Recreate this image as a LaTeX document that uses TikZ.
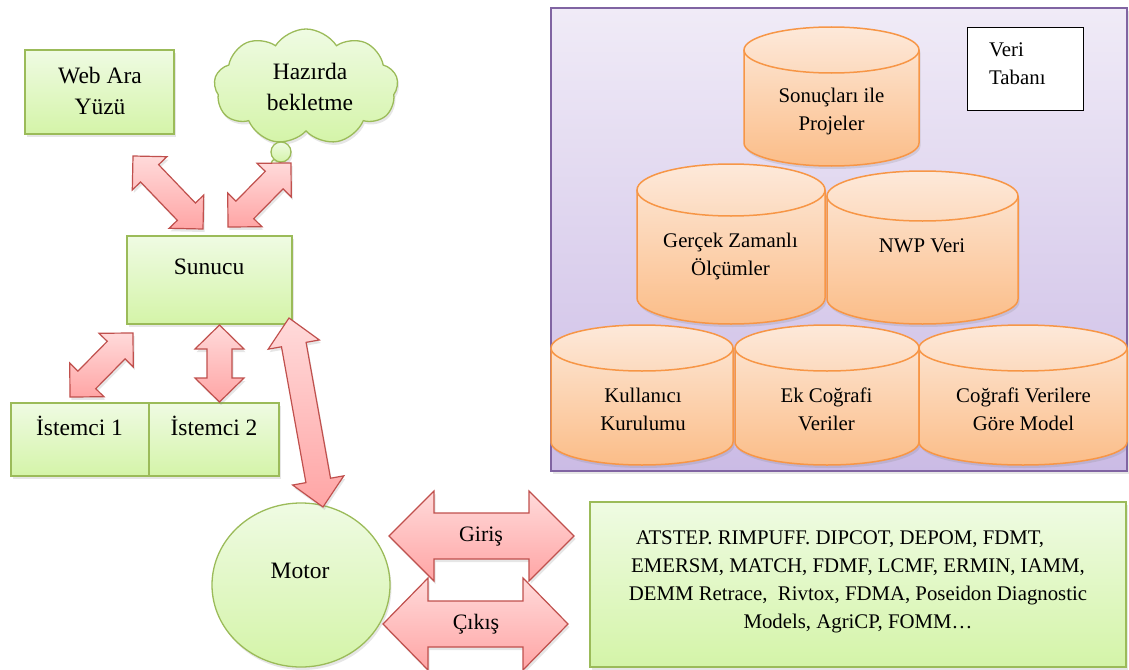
\documentclass[tikz,border=0pt]{standalone}
\usepackage{fontspec}
\setmainfont{Liberation Serif}
\usetikzlibrary{calc,shapes.symbols,shapes.geometric,shadows}
\definecolor{grnline}{HTML}{9BBB59}
\definecolor{grntop}{HTML}{EFFBE3}
\definecolor{grnbot}{HTML}{D4F4A8}
\definecolor{redline}{HTML}{C0504D}
\definecolor{redtop}{HTML}{FFDADA}
\definecolor{redbot}{HTML}{FFA5A5}
\definecolor{purline}{HTML}{8064A2}
\definecolor{purtop}{HTML}{F0EBF7}
\definecolor{purbot}{HTML}{CBBBE5}
\definecolor{orline}{HTML}{F79646}
\definecolor{ortop}{HTML}{FDE9DA}
\definecolor{orbot}{HTML}{FBBD88}
\newcommand\dbcyl[6]{% name,x1,x2,ytop,ybot,ry
  \pgfmathsetmacro\cx{(#2+#3)/2}\pgfmathsetmacro\rx{(#3-#2)/2}%
  \coordinate (#1) at (\cx,{(#4+#5)/2});
  \path[cylfill] (#2,{#4+#6}) -- (#2,{#5-#6}) arc[start angle=180,end angle=0,x radius=\rx,y radius=#6] -- (#3,{#4+#6}) arc[start angle=0,end angle=-180,x radius=\rx,y radius=#6] -- cycle;
  \draw[cylline] (#2,{#4+#6}) -- (#2,{#5-#6}) arc[start angle=180,end angle=0,x radius=\rx,y radius=#6] -- (#3,{#4+#6});
  \draw[cylline] (\cx,{#4+#6}) ellipse [x radius=\rx, y radius=#6];
}
\begin{document}
\begin{tikzpicture}[x=1pt,y=-1pt,
  shadowed/.style={drop shadow={opacity=0.2, shadow xshift=1.5pt, shadow yshift=-3pt}},
  greenbox/.style={draw=grnline, line width=1.3pt, top color=grntop, bottom color=grnbot, shadowed},
  boxnode/.style={greenbox, rectangle, inner sep=0pt},
  lbl/.style={align=center, inner sep=0pt, font=\fontsize{23.5pt}{31pt}\selectfont},
  dblbl/.style={align=center, inner sep=0pt, font=\fontsize{20.8pt}{28pt}\selectfont},
  redarrow/.style={draw=redline, line width=1.2pt, top color=redtop, bottom color=redbot, line join=miter, shadowed},
  blockarrow/.style n args={3}{redarrow, to path={
    let \p1=(\tikztostart), \p2=(\tikztotarget),
        \n1={atan2(\y2-\y1,\x2-\x1)} in
    (\p1) -- ($(\p1)+(\n1:#1)+(\n1+90:#2)$) -- ($(\p1)+(\n1:#1)+(\n1+90:#3)$)
    -- ($(\p2)+(\n1+180:#1)+(\n1+90:#3)$) -- ($(\p2)+(\n1+180:#1)+(\n1+90:#2)$)
    -- (\p2) -- ($(\p2)+(\n1+180:#1)+(\n1-90:#2)$) -- ($(\p2)+(\n1+180:#1)+(\n1-90:#3)$)
    -- ($(\p1)+(\n1:#1)+(\n1-90:#3)$) -- ($(\p1)+(\n1:#1)+(\n1-90:#2)$) -- cycle}},
  cylfill/.style={top color=ortop, bottom color=orbot, shadowed},
  cylline/.style={draw=orline, line width=1.5pt},
]
\useasboundingbox (0,0) rectangle (1129,669);

% ---- database panel ----
\node[draw=purline, line width=2pt, top color=purtop, bottom color=purbot, shadowed,
      minimum width=576pt, minimum height=463pt, inner sep=0pt] (db) at (839,239.5) {};
\node[draw=black, line width=0.8pt, fill=white, minimum width=116pt, minimum height=83pt, inner sep=0pt] (vt) at (1025,68.5) {};
\node[dblbl, align=left, anchor=west] (vttxt) at (989,64) {Veri\\Tabanı};

\dbcyl{c4}{551}{733}{325}{465}{23}
\dbcyl{c5}{735}{919}{325}{465}{23}
\dbcyl{c6}{919}{1127}{325}{465}{23}
\dbcyl{c2}{637}{825}{164}{324}{26}
\dbcyl{c3}{827}{1018}{171}{324}{25}
\dbcyl{c1}{744}{919}{27}{166}{23}
\node[dblbl] (c1t) at (831.5,111) {Sonuçları ile\\Projeler};
\node[dblbl] (c2t) at (730.5,256) {Gerçek Zamanlı\\Ölçümler};
\node[dblbl] (c3t) at (922,246) {NWP Veri};
\node[dblbl] (c4t) at (643,409) {Kullanıcı\\Kurulumu};
\node[dblbl] (c5t) at (826.5,409) {Ek Coğrafi\\Veriler};
\node[dblbl] (c6t) at (1023.5,409) {Coğrafi Verilere\\Göre Model};

% ---- left side ----
\node[boxnode, minimum width=149pt, minimum height=84pt] (web) at (99.5,92) {};
\node[lbl] (webt) at (100,91) {Web Ara\\Yüzü};

\node[cloud, cloud puffs=9, cloud puff arc=115, aspect=1.55, greenbox, minimum width=184pt, minimum height=116pt, inner sep=0pt] (cloud) at (306,87) {};
\node[lbl] (cloudt) at (310,86.5) {Hazırda\\bekletme};
\node[circle, greenbox, minimum size=10pt, inner sep=0pt] (bub2) at (276,164) {};
\node[circle, greenbox, minimum size=20pt, inner sep=0pt] (bub) at (281,152) {};

\node[boxnode, minimum width=165pt, minimum height=88pt] (sunucu) at (209.5,280) {};
\node[lbl] (sunucut) at (209,266.5) {Sunucu};

\node[boxnode, minimum width=138pt, minimum height=73pt] (ist1) at (80,439.5) {};
\node[boxnode, minimum width=130pt, minimum height=73pt] (ist2) at (214,439.5) {};
\node[lbl] (ist1t) at (79.5,426) {İstemci 1};
\node[lbl] (ist2t) at (214,426) {İstemci 2};

\node[ellipse, greenbox, minimum width=178pt, minimum height=164pt, inner sep=0pt] (motor) at (301,585) {};
\node[lbl] (motort) at (300,571) {Motor};

\node[boxnode, minimum width=536pt, minimum height=165pt] (models) at (858,584.5) {};
\node[dblbl] (modelst) at (858,581.5) {ATSTEP. RIMPUFF. DIPCOT, DEPOM, FDMT,\hspace*{36pt}\\EMERSM, MATCH, FDMF, LCMF, ERMIN, IAMM,\\DEMM Retrace,\ \ Rivtox, FDMA, Poseidon Diagnostic\\Models, AgriCP, FOMM…};

% ---- arrow end points ----
\coordinate (a1s) at (133,156);   \coordinate (a1e) at (203,229);
\coordinate (a2s) at (228,227);   \coordinate (a2e) at (291,163);
\coordinate (a3s) at (70,397);    \coordinate (a3e) at (133,333);
\coordinate (a4s) at (219.5,325); \coordinate (a4e) at (219.5,402);
\coordinate (a5s) at (289,318);   \coordinate (a5e) at (323,507);
\coordinate (gs) at (389,536);    \coordinate (ge) at (574,536);
\coordinate (cs) at (383,624);    \coordinate (ce) at (568,624);

\draw[blockarrow={24pt}{24pt}{12.5pt}] (a1s) to (a1e);
\draw[blockarrow={24pt}{24pt}{12.5pt}] (a2s) to (a2e);
\draw[blockarrow={24pt}{24pt}{12.5pt}] (a3s) to (a3e);
\draw[blockarrow={24pt}{24.5pt}{12.5pt}] (a4s) to (a4e);
\draw[blockarrow={27pt}{26pt}{12.5pt}] (a5s) to (a5e);
\draw[blockarrow={45pt}{45pt}{23pt}] (gs) to (ge);
\draw[blockarrow={45pt}{46pt}{23pt}] (cs) to (ce);
\node[lbl, font=\fontsize{22pt}{28pt}\selectfont] (girist) at (481,537) {Giriş};
\node[lbl, font=\fontsize{22pt}{28pt}\selectfont] (cikist) at (476,624.5) {Çıkış};
\end{tikzpicture}
\end{document}
